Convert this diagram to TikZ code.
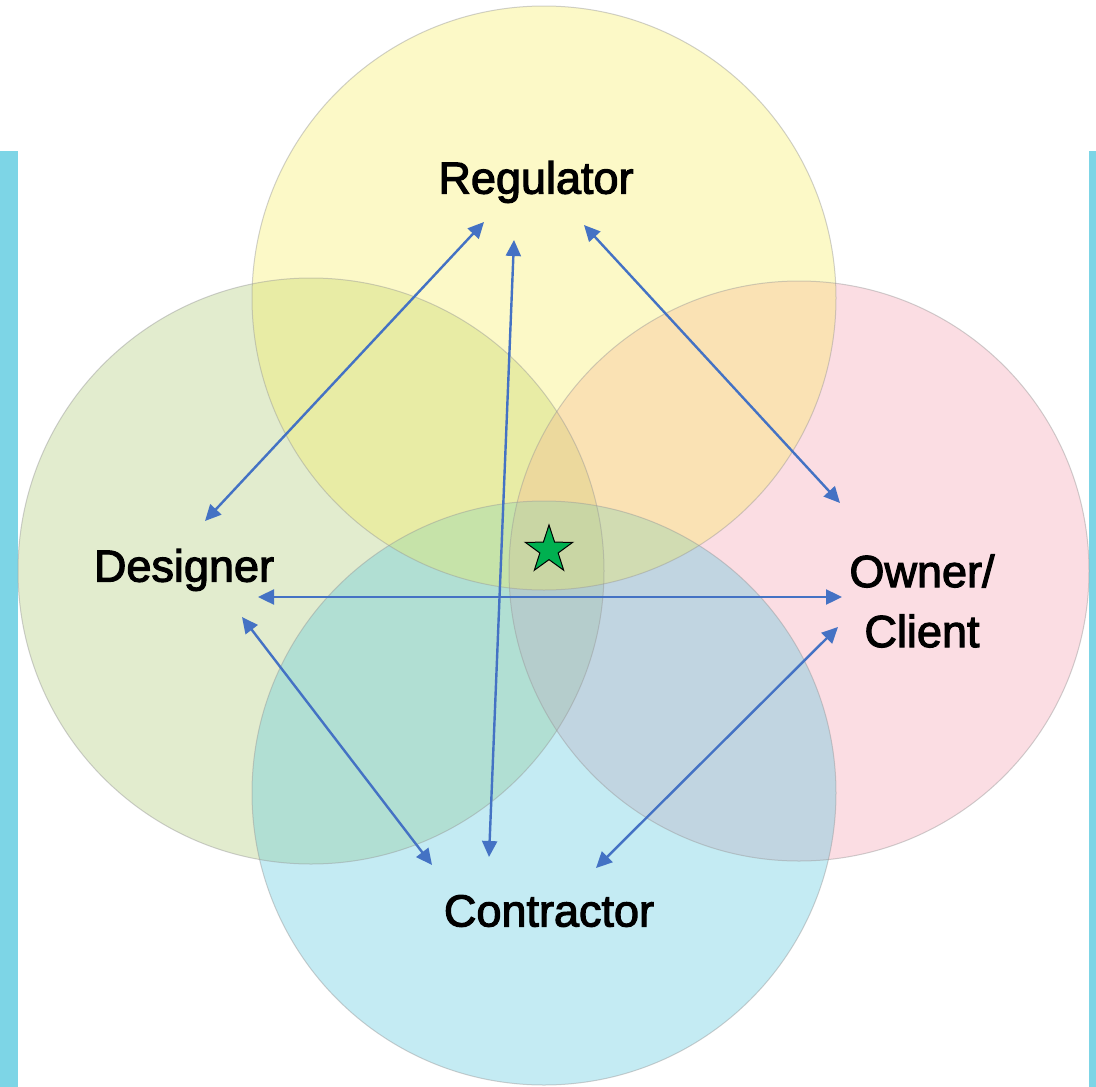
\documentclass[tikz,border=0pt]{standalone}
\usepackage{fontspec}
\setmainfont{Liberation Sans}
\newfontfamily\lblfont[FakeBold=2.5]{Liberation Sans}
\usetikzlibrary{arrows.meta,shapes.geometric}
\definecolor{cyell}{RGB}{248,238,72}
\definecolor{cgreen}{RGB}{172,201,115}
\definecolor{cpink}{RGB}{244,158,175}
\definecolor{cblue}{RGB}{86,200,223}
\definecolor{strip}{RGB}{125,213,230}
\definecolor{arrowblue}{RGB}{68,114,196}
\definecolor{stargreen}{RGB}{0,176,80}
\tikzset{
  circ/.style={draw=black!40, line width=1pt, draw opacity=0.45},
  lbl/.style={font=\lblfont\fontsize{45}{60}\selectfont, text=black, align=center},
  link/.style={arrowblue, line width=2.4pt, {Triangle[length=16pt,width=15pt]}-{Triangle[length=16pt,width=15pt]}}
}
\begin{document}
\begin{tikzpicture}[x=1pt,y=-1pt]
\useasboundingbox (0,0) rectangle (1096,1087);
\fill[white] (0,0) rectangle (1096,1087);
\fill[strip] (0,151) rectangle (18,1087);
\fill[strip] (1089,151) rectangle (1096,1087);
% circles
\fill[cgreen, fill opacity=0.35] (311,571) circle (293);
\fill[cpink, fill opacity=0.35] (799,571) circle (290);
\fill[cblue, fill opacity=0.35] (544,793) circle (292);
\fill[cyell, fill opacity=0.30] (544,298) circle (292);
\draw[circ] (544,298) circle (292);
\draw[circ] (311,571) circle (293);
\draw[circ] (799,571) circle (290);
\draw[circ] (544,793) circle (292);
% labels
\node[lbl] (reg) at (536,182) {Regulator};
\node[lbl] (des) at (184,570) {Designer};
\node[lbl] (own) at (922,601) {Owner/\\Client};
\node[lbl] (con) at (549,911) {Contractor};
% star
\node[star, star points=5, star point ratio=2.6, minimum size=50pt, inner sep=0pt, fill=stargreen, draw=black, line width=1pt] (st) at (549,550) {};
% arrow endpoints
\coordinate (r1) at (484,222);
\coordinate (d1) at (205,521);
\coordinate (r2) at (514,240);
\coordinate (c2) at (489,857);
\coordinate (r3) at (584,225);
\coordinate (o3) at (840,503);
\coordinate (d4) at (258,597);
\coordinate (o4) at (842,597);
\coordinate (d5) at (242,617);
\coordinate (c5) at (432,865);
\coordinate (o6) at (838,627);
\coordinate (c6) at (596,868);
\draw[link] (r1) -- (d1);
\draw[link] (r2) -- (c2);
\draw[link] (r3) -- (o3);
\draw[link] (d4) -- (o4);
\draw[link] (d5) -- (c5);
\draw[link] (o6) -- (c6);
\end{tikzpicture}
\end{document}
